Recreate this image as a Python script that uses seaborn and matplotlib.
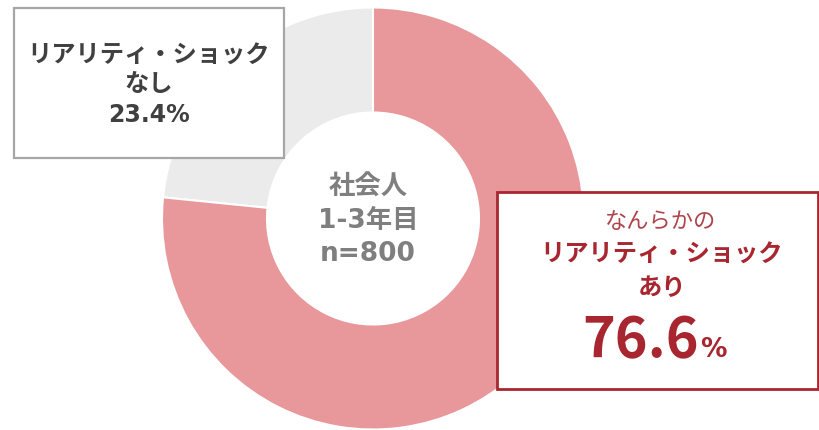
import numpy as np
import pandas as pd
import matplotlib
matplotlib.use("Agg")
import matplotlib.pyplot as plt
import seaborn as sns
from matplotlib.patches import Rectangle

labels = ['リアリティ・ショックなし', 'なんらかのリアリティ・ショックあり']
shares = [23.4, 76.6]
center_lines = ['社会人', '1-3年目', 'n=800']

sns.set_theme(style='white')
plt.rcParams['font.family'] = ['Noto Sans CJK JP', 'DejaVu Sans']
latin = ['DejaVu Sans', 'Noto Sans CJK JP']

W, H = 820, 431
colors = ['#EBEBEB', '#E8979B']
red = '#A8262F'
gray_txt = '#404040'

fig = plt.figure(figsize=(W / 100, H / 100), dpi=100)
ax = fig.add_axes([0, 0, 1, 1])

ax.pie(shares, colors=colors, startangle=90, counterclock=True,
       radius=211, center=(373, H - 219.5),
       wedgeprops=dict(width=105, edgecolor='white', linewidth=1.5))
ax.set_xlim(0, W)
ax.set_ylim(0, H)
ax.set_aspect('equal')
ax.axis('off')

# centre text
ax.text(368, H - 187, center_lines[0], ha='center', va='center', fontsize=19,
        fontweight='bold', color='#7F7F7F')
for y, s in zip([221, 254], center_lines[1:]):
    ax.text(368, H - y, s, ha='center', va='center', fontsize=19,
            fontweight='bold', color='#7F7F7F', family=latin)

# left box (なし)
ax.add_patch(Rectangle((14, H - 159), 270, 150, facecolor='white',
                       edgecolor='#A6A6A6', linewidth=1.6, zorder=3))
ax.text(149, H - 56, 'リアリティ・ショック', ha='center', va='center',
        fontsize=17.5, fontweight='bold', color=gray_txt, zorder=4)
ax.text(149, H - 84, 'なし', ha='center', va='center',
        fontsize=17.5, fontweight='bold', color=gray_txt, zorder=4)
ax.text(149, H - 115, f'{shares[0]}%', ha='center', va='center',
        fontsize=17, fontweight='bold', color=gray_txt, zorder=4, family=latin)

# right box (あり)
ax.add_patch(Rectangle((497, H - 390), 321, 197, facecolor='white',
                       edgecolor=red, linewidth=2, zorder=3, clip_on=False))
ax.text(661, H - 222, 'なんらかの', ha='center', va='center',
        fontsize=16, color='#B0444C', zorder=4)
ax.text(662, H - 255, 'リアリティ・ショック', ha='center', va='center',
        fontsize=17.5, fontweight='bold', color=red, zorder=4)
ax.text(662, H - 288, 'あり', ha='center', va='center',
        fontsize=17.5, fontweight='bold', color=red, zorder=4)
ax.text(699, H - 357, f'{shares[1]}', ha='right', va='baseline',
        fontsize=40, fontweight='bold', color=red, zorder=4)
ax.text(700, H - 357, '%', ha='left', va='baseline',
        fontsize=19, fontweight='bold', color=red, zorder=4, family=latin)

fig.savefig('out.png', dpi=100)
